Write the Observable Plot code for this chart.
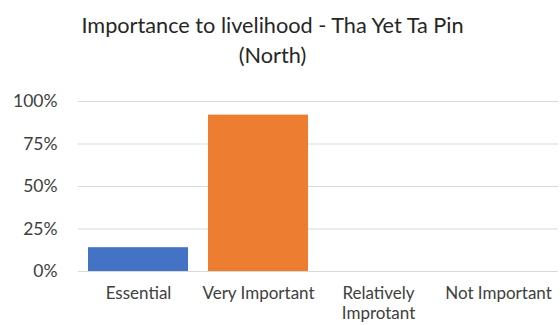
<!DOCTYPE html>
<html><head><meta charset="utf-8">
<script src="https://cdn.jsdelivr.net/npm/d3@7"></script>
<script src="https://cdn.jsdelivr.net/npm/@observablehq/plot@0.6"></script>
<style>
html,body{margin:0;padding:0;background:#fff;}
#wrap{width:560px;height:325px;overflow:hidden;font-family:Lato,"Open Sans",sans-serif;}
#title{height:84px;box-sizing:border-box;padding-top:10px;padding-right:15px;text-align:center;font-size:21.7px;line-height:30px;color:#262626;}
</style></head>
<body><div id="wrap"><div id="title">Importance to livelihood - Tha Yet Ta Pin<br>(North)</div><div id="chart"></div></div>
<script>
const categories = ["Essential", "Very Important", "Relatively Improtant", "Not Important"];
const labels = ["Essential", "Very Important", "Relatively\nImprotant", "Not Important"];
const values = [14, 92, 0, 0];
const colors = ["#4472C4", "#ED7D31", "#A5A5A5", "#FFC000"];
const yTicks = [0, 25, 50, 75, 100];

const data = categories.map((c, i) => ({cat: c, value: values[i], color: colors[i]}));
const labelOf = new Map(categories.map((c, i) => [c, labels[i]]));

const chart = Plot.plot({
  width: 560,
  height: 241,
  marginTop: 17,
  marginBottom: 54,
  marginLeft: 78,
  marginRight: 2,
  style: {fontFamily: "Lato, 'Open Sans', sans-serif", fontSize: "17px", color: "#404040", background: "#fff"},
  x: {domain: categories, paddingInner: 0.1667, paddingOuter: 0.0833, label: null},
  y: {domain: [0, 100], label: null},
  marks: [
    Plot.ruleY(yTicks, {stroke: "#d9d9d9", strokeWidth: 1}),
    Plot.barY(data, {x: "cat", y: "value", fill: "color"}),
    Plot.axisY(yTicks, {tickSize: 0, tickPadding: 21, tickFormat: d => d + "%", fontSize: 17.5, label: null}),
    Plot.axisX({tickSize: 0, tickPadding: 13, tickFormat: d => labelOf.get(d), fontSize: 17, label: null, lineHeight: 1.2})
  ]
});
document.getElementById("chart").appendChild(chart);
</script></body></html>
